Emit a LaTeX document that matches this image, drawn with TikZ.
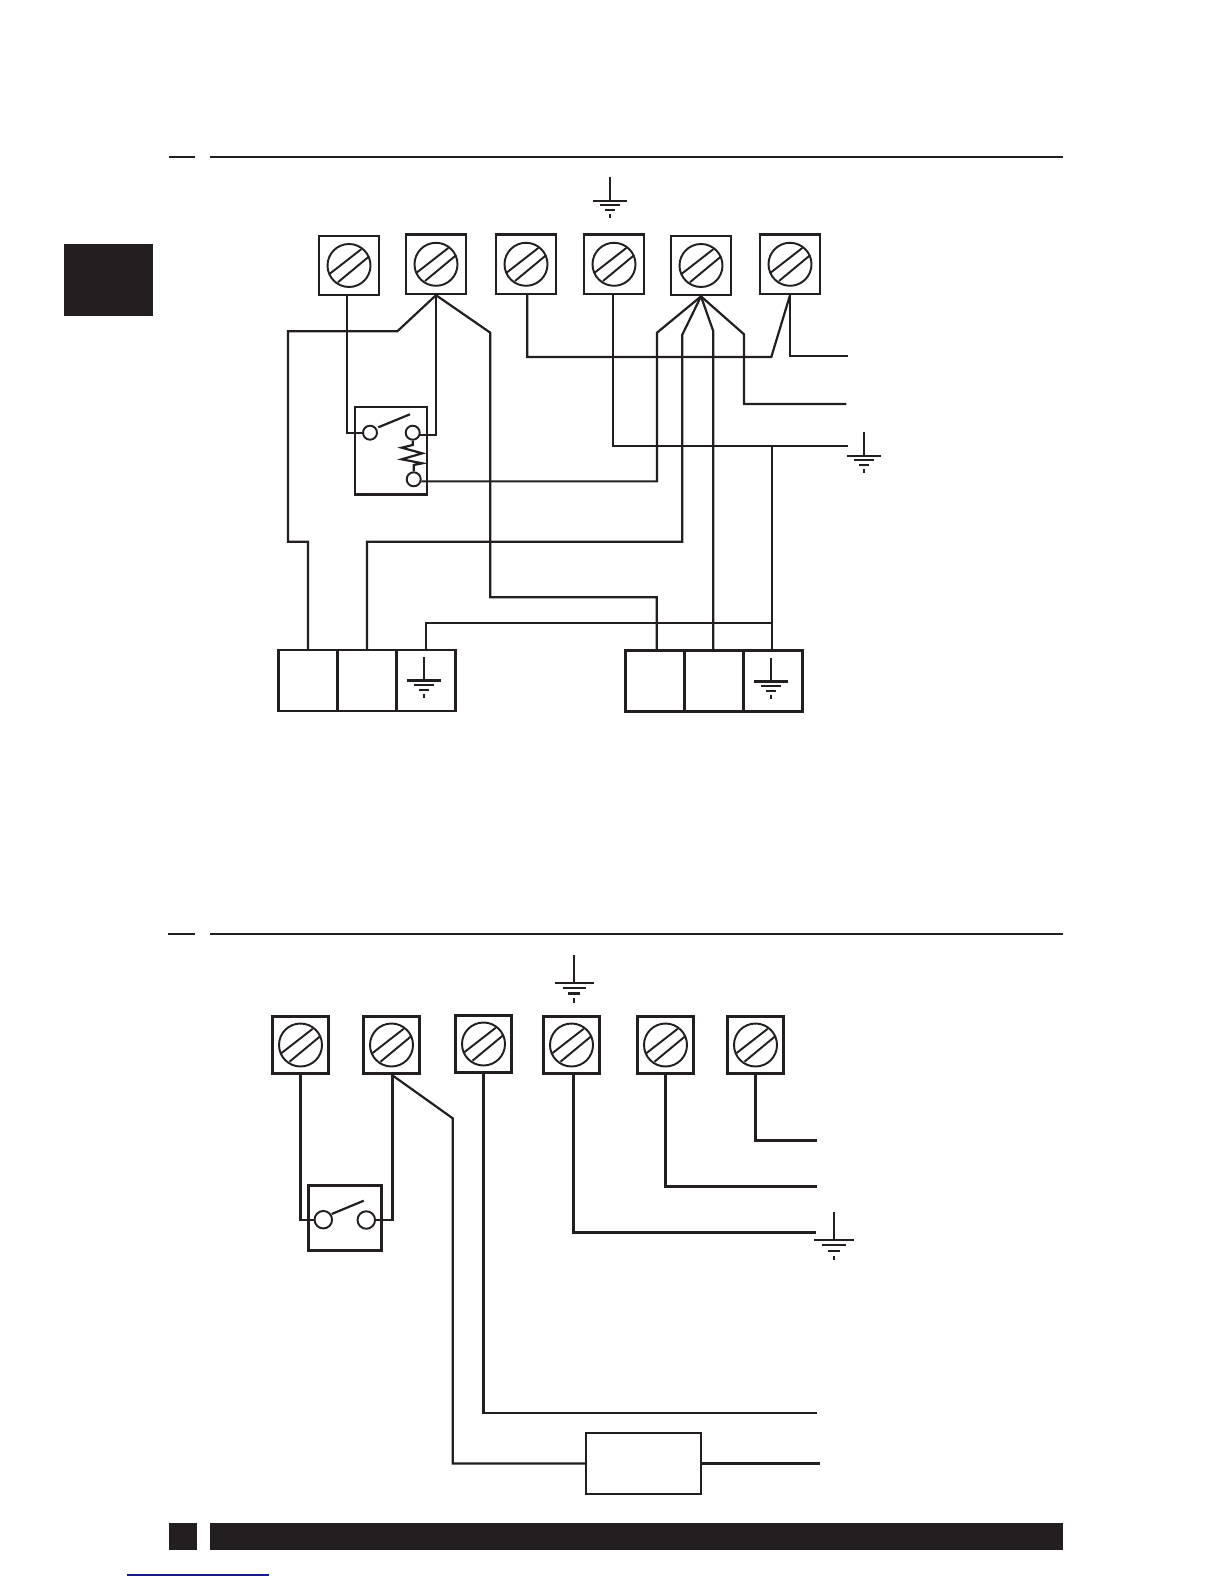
\documentclass[tikz,border=0pt]{standalone}
\usepackage{tikz}
\definecolor{ink}{HTML}{231F20}
\definecolor{linkblue}{HTML}{1A1A8C}
\tikzset{
  wire/.style={ink, line width=1.25pt},
  heavywire/.style={ink, line width=1.6pt},
  terminal/.style={draw=ink, line width=1.3pt, minimum size=1.19cm, inner sep=0pt,
    path picture={
      \draw[ink, line width=1.1pt] (path picture bounding box.center) circle (21.5);
      \draw[ink, line width=1.1pt] (path picture bounding box.center) ++(-19.3,8.3) -- ++(31.6,-24.6);
      \draw[ink, line width=1.1pt] (path picture bounding box.center) ++(-11,16.7) -- ++(31,-25.7);
    }},
  lowterminal/.style={terminal, minimum size=1.13cm, line width=1.6pt},
  contact/.style={draw=ink, circle, inner sep=0pt, line width=1.1pt, minimum size=0.28cm},
  lowcontact/.style={contact, minimum size=0.35cm},
  cell/.style={draw=ink, line width=1.2pt, minimum width=1.18cm, minimum height=1.22cm, inner sep=0pt},
  relaybox/.style={draw=ink, line width=1.25pt, minimum width=1.44cm, minimum height=1.75cm, inner sep=0pt},
  gnd/.pic={
    \draw[ink, line width=1.25pt, pic actions] (0,0) -- (0,23.4);
    \draw[ink, line width=1.25pt, pic actions] (-16.7,23.4) -- (16.7,23.4);
    \draw[ink, line width=1.25pt, pic actions] (-10,28) -- (10,28);
    \draw[ink, line width=1.25pt, pic actions] (-5,32.7) -- (5,32.7);
    \draw[ink, line width=1.25pt, pic actions] (0,36.7) -- (0,40.7);
  }
}
\begin{document}
\begin{tikzpicture}[x=0.02cm, y=-0.02cm]
  \useasboundingbox (0,0) rectangle (1224,1584);
  % Page furniture
  \fill[ink] (63.7,244) rectangle (153,315.7);
  \fill[ink] (169,155.7) rectangle (195,157.7);
  \fill[ink] (210,155.7) rectangle (1063,157.7);
  \fill[ink] (168,932.7) rectangle (195,934.7);
  \fill[ink] (210,932.7) rectangle (1063,934.7);
  \fill[ink] (168.7,1523) rectangle (196.9,1550);
  \fill[ink] (210,1523) rectangle (1063,1550);
  \draw[linkblue, line width=0.7pt] (127,1575) -- (268.7,1575);

  % Upper terminals
  \node[terminal] (tA) at (349,265.5) {};
  \node[terminal] (tB) at (436,264.3) {};
  \node[terminal] (tC) at (526,264.3) {};
  \node[terminal] (tD) at (614,264.3) {};
  \node[terminal] (tE) at (701,265.5) {};
  \node[terminal] (tF) at (790,264.3) {};
  % Upper relay
  \node[relaybox] (relayU) at (391,450.8) {};
  \node[contact] (cA) at (370,432.7) {};
  \node[contact] (cB) at (412.7,432.7) {};
  \node[contact] (cC) at (413.7,479.3) {};
  \draw[wire] (378.3,427.3) -- (410,414.3);
  \draw[wire] (cB.south) -- (412.7,445) -- (401.7,447.7) -- (422.3,453.3) -- (401.7,459.3) -- (422.3,463.3) -- (413.7,465) -- (cC.north);
  % Upper connector blocks
  \node[cell] (lA) at (308,680.5) {};
  \node[cell] (lB) at (367,680.5) {};
  \node[cell] (lC) at (426,680.5) {};
  \node[cell] (rA) at (655,681) {};
  \node[cell] (rB) at (714,681) {};
  \node[cell] (rC) at (773,681) {};
  % Upper earth symbols
  \pic at (610,177.3) {gnd};
  \pic at (864,432.3) {gnd};
  \pic[line width=1.6pt] at (424,657) {gnd};
  \pic at (771,658) {gnd};
  % Upper free ends
  \coordinate (eA) at (847.7,356);
  \coordinate (eB) at (846.3,404);
  \coordinate (eC) at (848,446);
  \coordinate (teeR) at (772,446);
  % Upper wires
  \draw[wire] (tA.south) ++(-2,0) |- (cA.west);
  \draw[wire] (tB.south) |- (cB.-15);
  \draw[wire] (tB.south) -- (397.3,331.3) -- (288,331.3) -- (288,541.7) -- (308,541.7) -- (lA.north);
  \draw[wire] (tB.south) -- (490.3,332.7) -- (490.3,597.3) -- (656.7,597.3) -- (656.7,650);
  \draw[wire] (tC.south) ++(1.3,0) -- (527.3,357) -- (771.3,357) -- (tF.south);
  \draw[wire] (tF.south) |- (eA);
  \draw[wire] (tD.south) ++(-1,0) |- (eC);
  \draw[wire] (tE.south) -- (657,332.7) |- (cC.-15);
  \draw[wire] (tE.south) -- (682.3,334.7) -- (682.3,541.7) -- (367,541.7) -- (lB.north);
  \draw[wire] (tE.south) -- (713.3,331.3) -- (713.3,651);
  \draw[wire] (tE.south) -- (744,334.3) |- (eB);
  \draw[wire] (teeR) -- (772,651);
  \draw[wire] (lC.north) |- (772,623.3);

  % Lower terminals
  \node[lowterminal] (tG) at (300.5,1045) {};
  \node[lowterminal] (tH) at (391.5,1045) {};
  \node[lowterminal] (tI) at (483.5,1044) {};
  \node[lowterminal] (tJ) at (571.5,1045) {};
  \node[lowterminal] (tK) at (665.5,1045) {};
  \node[lowterminal] (tL) at (755.5,1045) {};
  % Lower switch
  \node[relaybox, line width=1.5pt, minimum width=1.47cm, minimum height=1.31cm] (relayL) at (345,1218) {};
  \node[lowcontact] (cD) at (323.3,1219.7) {};
  \node[lowcontact] (cE) at (366.3,1220) {};
  \draw[wire] (331.7,1214) -- (363.7,1200.7);
  % Lower box
  \node[cell, minimum width=2.3cm, minimum height=1.23cm] (chip) at (643.3,1463.5) {};
  % Lower earth symbols
  \pic[scale=1.18, line width=1.5pt] at (574.3,955) {gnd};
  \pic[scale=1.18, line width=1.3pt] at (834,1212.3) {gnd};
  % Lower free ends
  \coordinate (fA) at (817,1140.3);
  \coordinate (fB) at (817,1186.3);
  \coordinate (fC) at (816,1232.3);
  \coordinate (fD) at (817,1412.7);
  \coordinate (fE) at (820,1463.5);
  % Lower wires
  \draw[wire] (tG.south) |- (cD.west);
  \draw[heavywire] (tH.south) ++(1,0) |- (cE.east);
  \draw[wire] (tH.south) -- (452.7,1118.3) |- (chip.west);
  \draw[heavywire] (chip.east) -- (fE);
  \draw[wire] (tI.south) |- (fD);
  \draw[heavywire] (tJ.south) ++(1.8,0) |- (fC);
  \draw[heavywire] (tK.south) |- (fB);
  \draw[heavywire] (tL.south) |- (fA);
\end{tikzpicture}
\end{document}
